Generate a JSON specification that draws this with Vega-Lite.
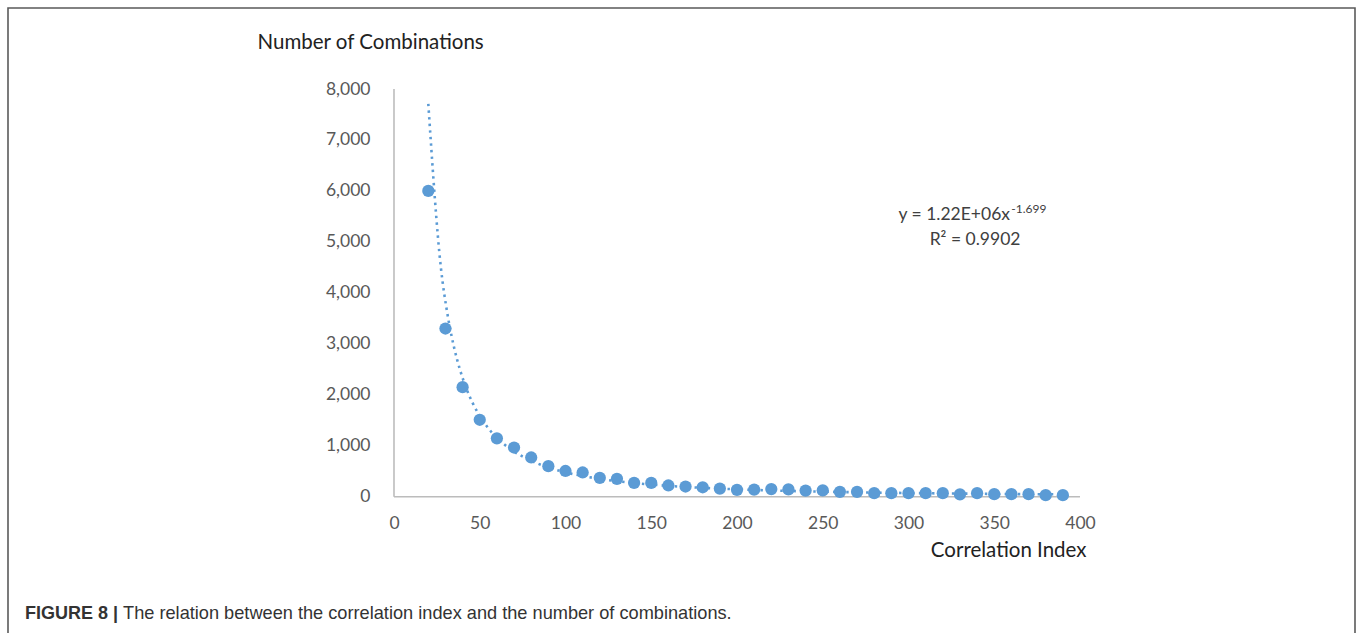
{
  "$schema": "https://vega.github.io/schema/vega-lite/v6.json",
  "width": 1347,
  "height": 640,
  "autosize": {"type": "none"},
  "padding": {"left": 8, "top": 8, "right": 2, "bottom": 0},
  "background": "white",
  "config": {
    "view": {"stroke": "#5a5a5a", "strokeWidth": 1.6},
    "font": "Lato"
  },
  "title": {
    "text": "FIGURE 8 |",
    "orient": "bottom",
    "anchor": "start",
    "frame": "group",
    "offset": 0,
    "dx": 17,
    "dy": -29,
    "baseline": "alphabetic",
    "font": "Liberation Sans",
    "fontSize": 18,
    "fontWeight": "bold",
    "color": "#333333"
  },
  "datasets": {
    "points": [
      {"index": 20, "combinations": 6000},
      {"index": 30, "combinations": 3300},
      {"index": 40, "combinations": 2150},
      {"index": 50, "combinations": 1510},
      {"index": 60, "combinations": 1145},
      {"index": 70, "combinations": 965},
      {"index": 80, "combinations": 770},
      {"index": 90, "combinations": 600},
      {"index": 100, "combinations": 505},
      {"index": 110, "combinations": 475},
      {"index": 120, "combinations": 370},
      {"index": 130, "combinations": 350},
      {"index": 140, "combinations": 270},
      {"index": 150, "combinations": 270},
      {"index": 160, "combinations": 220},
      {"index": 170, "combinations": 200},
      {"index": 180, "combinations": 185},
      {"index": 190, "combinations": 160},
      {"index": 200, "combinations": 135},
      {"index": 210, "combinations": 140},
      {"index": 220, "combinations": 150},
      {"index": 230, "combinations": 145},
      {"index": 240, "combinations": 120},
      {"index": 250, "combinations": 125},
      {"index": 260, "combinations": 95},
      {"index": 270, "combinations": 95},
      {"index": 280, "combinations": 70},
      {"index": 290, "combinations": 70},
      {"index": 300, "combinations": 70},
      {"index": 310, "combinations": 70},
      {"index": 320, "combinations": 70},
      {"index": 330, "combinations": 45},
      {"index": 340, "combinations": 70},
      {"index": 350, "combinations": 50},
      {"index": 360, "combinations": 50},
      {"index": 370, "combinations": 50},
      {"index": 380, "combinations": 30},
      {"index": 390, "combinations": 30}
    ]
  },
  "layer": [
    {
      "data": {"values": [{"axis": "x"}]},
      "mark": {"type": "rule", "color": "#bcbcbc", "strokeWidth": 1.6},
      "encoding": {
        "x": {"datum": 0, "type": "quantitative"},
        "x2": {"datum": 400},
        "y": {"datum": 0, "type": "quantitative"}
      }
    },
    {
      "data": {"values": [{"axis": "y"}]},
      "mark": {"type": "rule", "color": "#bcbcbc", "strokeWidth": 1.6},
      "encoding": {
        "x": {"datum": 0, "type": "quantitative"},
        "y": {"datum": 0, "type": "quantitative"},
        "y2": {"datum": 8000}
      }
    },
    {
      "data": {"name": "points"},
      "transform": [
        {"regression": "combinations", "on": "index", "method": "pow"}
      ],
      "mark": {"type": "line", "color": "#5b9bd5", "strokeWidth": 2.6, "strokeDash": [2.4, 4.2], "interpolate": "monotone"},
      "encoding": {
        "x": {"field": "index", "type": "quantitative"},
        "y": {"field": "combinations", "type": "quantitative"}
      }
    },
    {
      "data": {"name": "points"},
      "mark": {"type": "circle", "color": "#5b9bd5", "opacity": 1, "size": 150},
      "encoding": {
        "x": {
          "field": "index",
          "type": "quantitative",
          "scale": {"domain": [-225.07, 560.35], "nice": false, "zero": false},
          "axis": {
            "values": [0, 50, 100, 150, 200, 250, 300, 350, 400],
            "format": "d",
            "domain": false,
            "ticks": false,
            "tickSize": 0,
            "grid": false,
            "offset": -151.3,
            "labelPadding": 18,
            "labelFont": "Lato",
            "labelFontSize": 17.5,
            "labelColor": "#595959",
            "labelFlush": false,
            "title": "Correlation Index",
            "titleX": 1078,
            "titleY": 54,
            "titleAlign": "right",
            "titleBaseline": "middle",
            "titleFont": "Lato",
            "titleFontSize": 20.5,
            "titleFontWeight": "normal",
            "titleColor": "#222222"
          }
        },
        "y": {
          "field": "combinations",
          "type": "quantitative",
          "scale": {"domain": [-2969, 9590], "nice": false, "zero": false},
          "axis": {
            "values": [0, 1000, 2000, 3000, 4000, 5000, 6000, 7000, 8000],
            "format": ",d",
            "domain": false,
            "ticks": false,
            "tickSize": 0,
            "grid": false,
            "offset": -386,
            "labelPadding": 24,
            "labelFont": "Lato",
            "labelFontSize": 17.5,
            "labelColor": "#595959",
            "labelFlush": false,
            "title": "Number of Combinations",
            "titleAngle": 0,
            "titleX": -137,
            "titleY": 34,
            "titleAlign": "left",
            "titleBaseline": "middle",
            "titleFont": "Lato",
            "titleFontSize": 20.5,
            "titleFontWeight": "normal",
            "titleColor": "#222222"
          }
        }
      }
    },
    {
      "data": {"values": [{"equation": "y = 1.22E+06x"}]},
      "mark": {"type": "text", "font": "Lato", "fontSize": 17.5, "color": "#404040", "align": "right", "baseline": "middle"},
      "encoding": {
        "x": {"datum": 359.2, "type": "quantitative"},
        "y": {"datum": 5528, "type": "quantitative"},
        "text": {"field": "equation"}
      }
    },
    {
      "data": {"values": [{"exponent": "-1.699"}]},
      "mark": {"type": "text", "font": "Lato", "fontSize": 12, "color": "#404040", "align": "left", "baseline": "middle"},
      "encoding": {
        "x": {"datum": 359.9, "type": "quantitative"},
        "y": {"datum": 5650, "type": "quantitative"},
        "text": {"field": "exponent"}
      }
    },
    {
      "data": {"values": [{"r2": "R² = 0.9902"}]},
      "mark": {"type": "text", "font": "Lato", "fontSize": 17.5, "color": "#404040", "align": "center", "baseline": "middle"},
      "encoding": {
        "x": {"datum": 338.8, "type": "quantitative"},
        "y": {"datum": 5037, "type": "quantitative"},
        "text": {"field": "r2"}
      }
    },
    {
      "data": {"values": [{"caption": "The relation between the correlation index and the number of combinations."}]},
      "mark": {"type": "text", "font": "Liberation Sans", "fontSize": 18.2, "color": "#333333", "align": "left", "baseline": "alphabetic"},
      "encoding": {
        "x": {"datum": -158, "type": "quantitative"},
        "y": {"datum": -2400, "type": "quantitative"},
        "text": {"field": "caption"}
      }
    }
  ]
}
